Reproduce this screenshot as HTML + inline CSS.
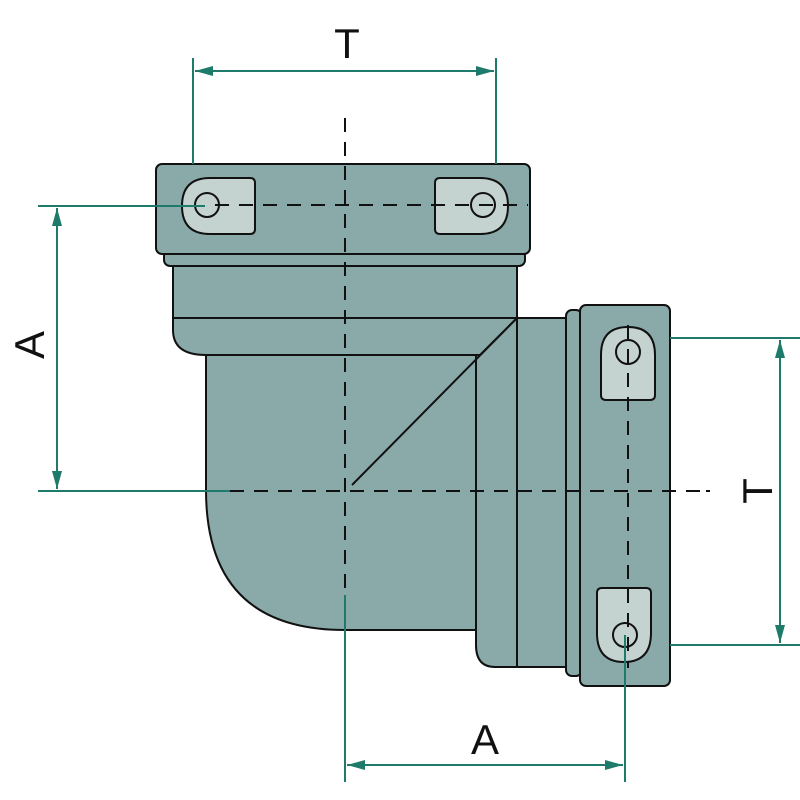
<!DOCTYPE html>
<html><head><meta charset="utf-8"><style>html,body{margin:0;padding:0;background:#fff}svg{display:block}</style></head>
<body>
<svg width="800" height="800" viewBox="0 0 800 800" xmlns="http://www.w3.org/2000/svg">
<defs>
<marker id="ar" viewBox="0 0 10 10" refX="10" refY="5" markerWidth="18" markerHeight="10" markerUnits="userSpaceOnUse" orient="auto-start-reverse" preserveAspectRatio="none"><path d="M0,0 L10,5 L0,10 z" fill="#1e7a6a"/></marker>
</defs>
<g stroke="#111" stroke-width="2" fill="#8aaaa9" stroke-linejoin="round">
<path d="M476,318 L517,318 L517,667 L495,667 Q476,667 476,645 Z"/>
<rect x="517" y="318" width="51" height="349"/>
<rect x="566" y="310" width="16" height="366" rx="6"/>
<rect x="580" y="305" width="90" height="381" rx="6"/>
<path d="M173,318 L517,318 L480,355 L476,355 L476,630 L345,630 Q206,630 206,490 L206,355 Q173,355 173,330 Z"/>
<line x1="206" y1="355" x2="480" y2="355"/>
<line x1="476" y1="355" x2="476" y2="630"/>
<line x1="517" y1="318" x2="352" y2="485"/>
<rect x="173" y="262" width="344" height="56"/>
<rect x="164" y="250" width="361" height="16" rx="6"/>
<rect x="156" y="164" width="374" height="90" rx="6"/>
<g fill="#c5d3d0">
<path d="M210,178 L250,178 Q255,178 255,183 L255,229 Q255,234 250,234 L210,234 Q182,234 182,206 Q182,178 210,178 Z"/>
<path d="M480,178 L440,178 Q435,178 435,183 L435,229 Q435,234 440,234 L480,234 Q508,234 508,206 Q508,178 480,178 Z"/>
<path d="M601,355 Q601,327 628,327 Q655,327 655,355 L655,395 Q655,400 650,400 L606,400 Q601,400 601,395 Z"/>
<path d="M597,633 Q597,662 624,662 Q651,662 651,633 L651,593 Q651,588 646,588 L602,588 Q597,588 597,593 Z"/>
</g>
<g fill="none">
<circle cx="207" cy="205" r="12"/><circle cx="483" cy="205" r="12"/>
<circle cx="628" cy="352" r="12"/><circle cx="625" cy="635" r="12"/>
</g>
</g>
<g stroke="#111" stroke-width="2" stroke-dasharray="14,10" fill="none">
<line x1="345" y1="118" x2="345" y2="600"/>
<line x1="215" y1="205" x2="528" y2="205"/>
<line x1="230" y1="491" x2="700" y2="491"/>
<line x1="628" y1="325" x2="628" y2="668"/>
</g>
<line x1="706" y1="491" x2="710" y2="491" stroke="#111" stroke-width="2"/>
<g stroke="#1e7a6a" stroke-width="2" fill="none">
<line x1="193" y1="58" x2="193" y2="164"/><line x1="496" y1="58" x2="496" y2="164"/>
<line x1="195" y1="71" x2="494" y2="71" marker-start="url(#ar)" marker-end="url(#ar)"/>
<line x1="38" y1="206" x2="205" y2="206"/><line x1="38" y1="491" x2="230" y2="491"/>
<line x1="57" y1="208" x2="57" y2="489" marker-start="url(#ar)" marker-end="url(#ar)"/>
<line x1="670" y1="338" x2="800" y2="338"/><line x1="670" y1="645" x2="800" y2="645"/>
<line x1="780" y1="340" x2="780" y2="643" marker-start="url(#ar)" marker-end="url(#ar)"/>
<line x1="345" y1="595" x2="345" y2="782"/><line x1="625" y1="635" x2="625" y2="782"/>
<line x1="347" y1="765" x2="623" y2="765" marker-start="url(#ar)" marker-end="url(#ar)"/>
</g>
<g font-family="Liberation Sans, sans-serif" font-size="42" fill="#111" text-anchor="middle">
<text x="347" y="58">T</text>
<text x="485" y="754">A</text>
<text transform="translate(44,345) rotate(-90)">A</text>
<text transform="translate(772,491) rotate(-90)">T</text>
</g>
</svg>
</body></html>
